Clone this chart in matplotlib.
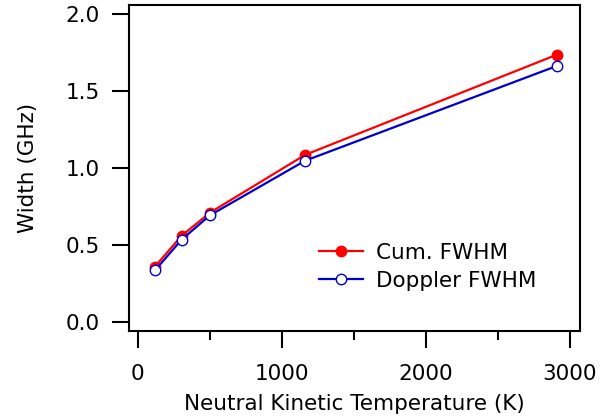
import matplotlib
matplotlib.use("Agg")
import matplotlib.pyplot as plt
from matplotlib.ticker import MultipleLocator, FormatStrFormatter

temperature = [118, 303, 500, 1160, 2907]
cum_fwhm = [0.36, 0.56, 0.71, 1.085, 1.735]
doppler_fwhm = [0.335, 0.535, 0.693, 1.047, 1.662]

plt.rcParams['font.family'] = ['DejaVu Sans']
FS = 15.5

fig = plt.figure(figsize=(6.13, 4.2), dpi=100)
W, H = 613, 420
ax = fig.add_axes([129/W, 1 - 330.7/H, (580-129)/W, (330.7-5)/H])

ax.plot(temperature, cum_fwhm, color='#ff0000', lw=1.6, marker='o', ms=7.5,
        mfc='#ff0000', mec='#ff0000', label='Cum. FWHM', zorder=3)
ax.plot(temperature, doppler_fwhm, color='#0000cc', lw=1.6, marker='o', ms=7.5,
        mfc='white', mec='#0000cc', mew=1.0, label='Doppler FWHM', zorder=4)

ax.set_xlim(-62, 3069)
ax.set_ylim(-0.056, 2.058)
ax.xaxis.set_major_locator(MultipleLocator(1000))
ax.xaxis.set_minor_locator(MultipleLocator(500))
ax.yaxis.set_major_locator(MultipleLocator(0.5))
ax.yaxis.set_major_formatter(FormatStrFormatter('%.1f'))

for s in ax.spines.values():
    s.set_linewidth(1.5)

ax.tick_params(axis='both', which='major', direction='out', length=12, width=1.5,
               labelsize=FS)
ax.tick_params(axis='x', which='major', pad=12)
ax.tick_params(axis='y', which='major', pad=9)
ax.tick_params(axis='x', which='minor', direction='out', length=6.5, width=1.5)

ax.set_xlabel('Neutral Kinetic Temperature (K)', fontsize=FS, labelpad=7)
ax.set_ylabel('Width (GHz)', fontsize=FS, labelpad=20)

ax.legend(loc='upper left', bbox_to_anchor=(308/W, 1 - 232/H),
          bbox_transform=fig.transFigure, frameon=False, borderpad=0,
          fontsize=FS, handlelength=2.05, handletextpad=0.6, labelspacing=0.38)

fig.savefig('out.png', dpi=100)
